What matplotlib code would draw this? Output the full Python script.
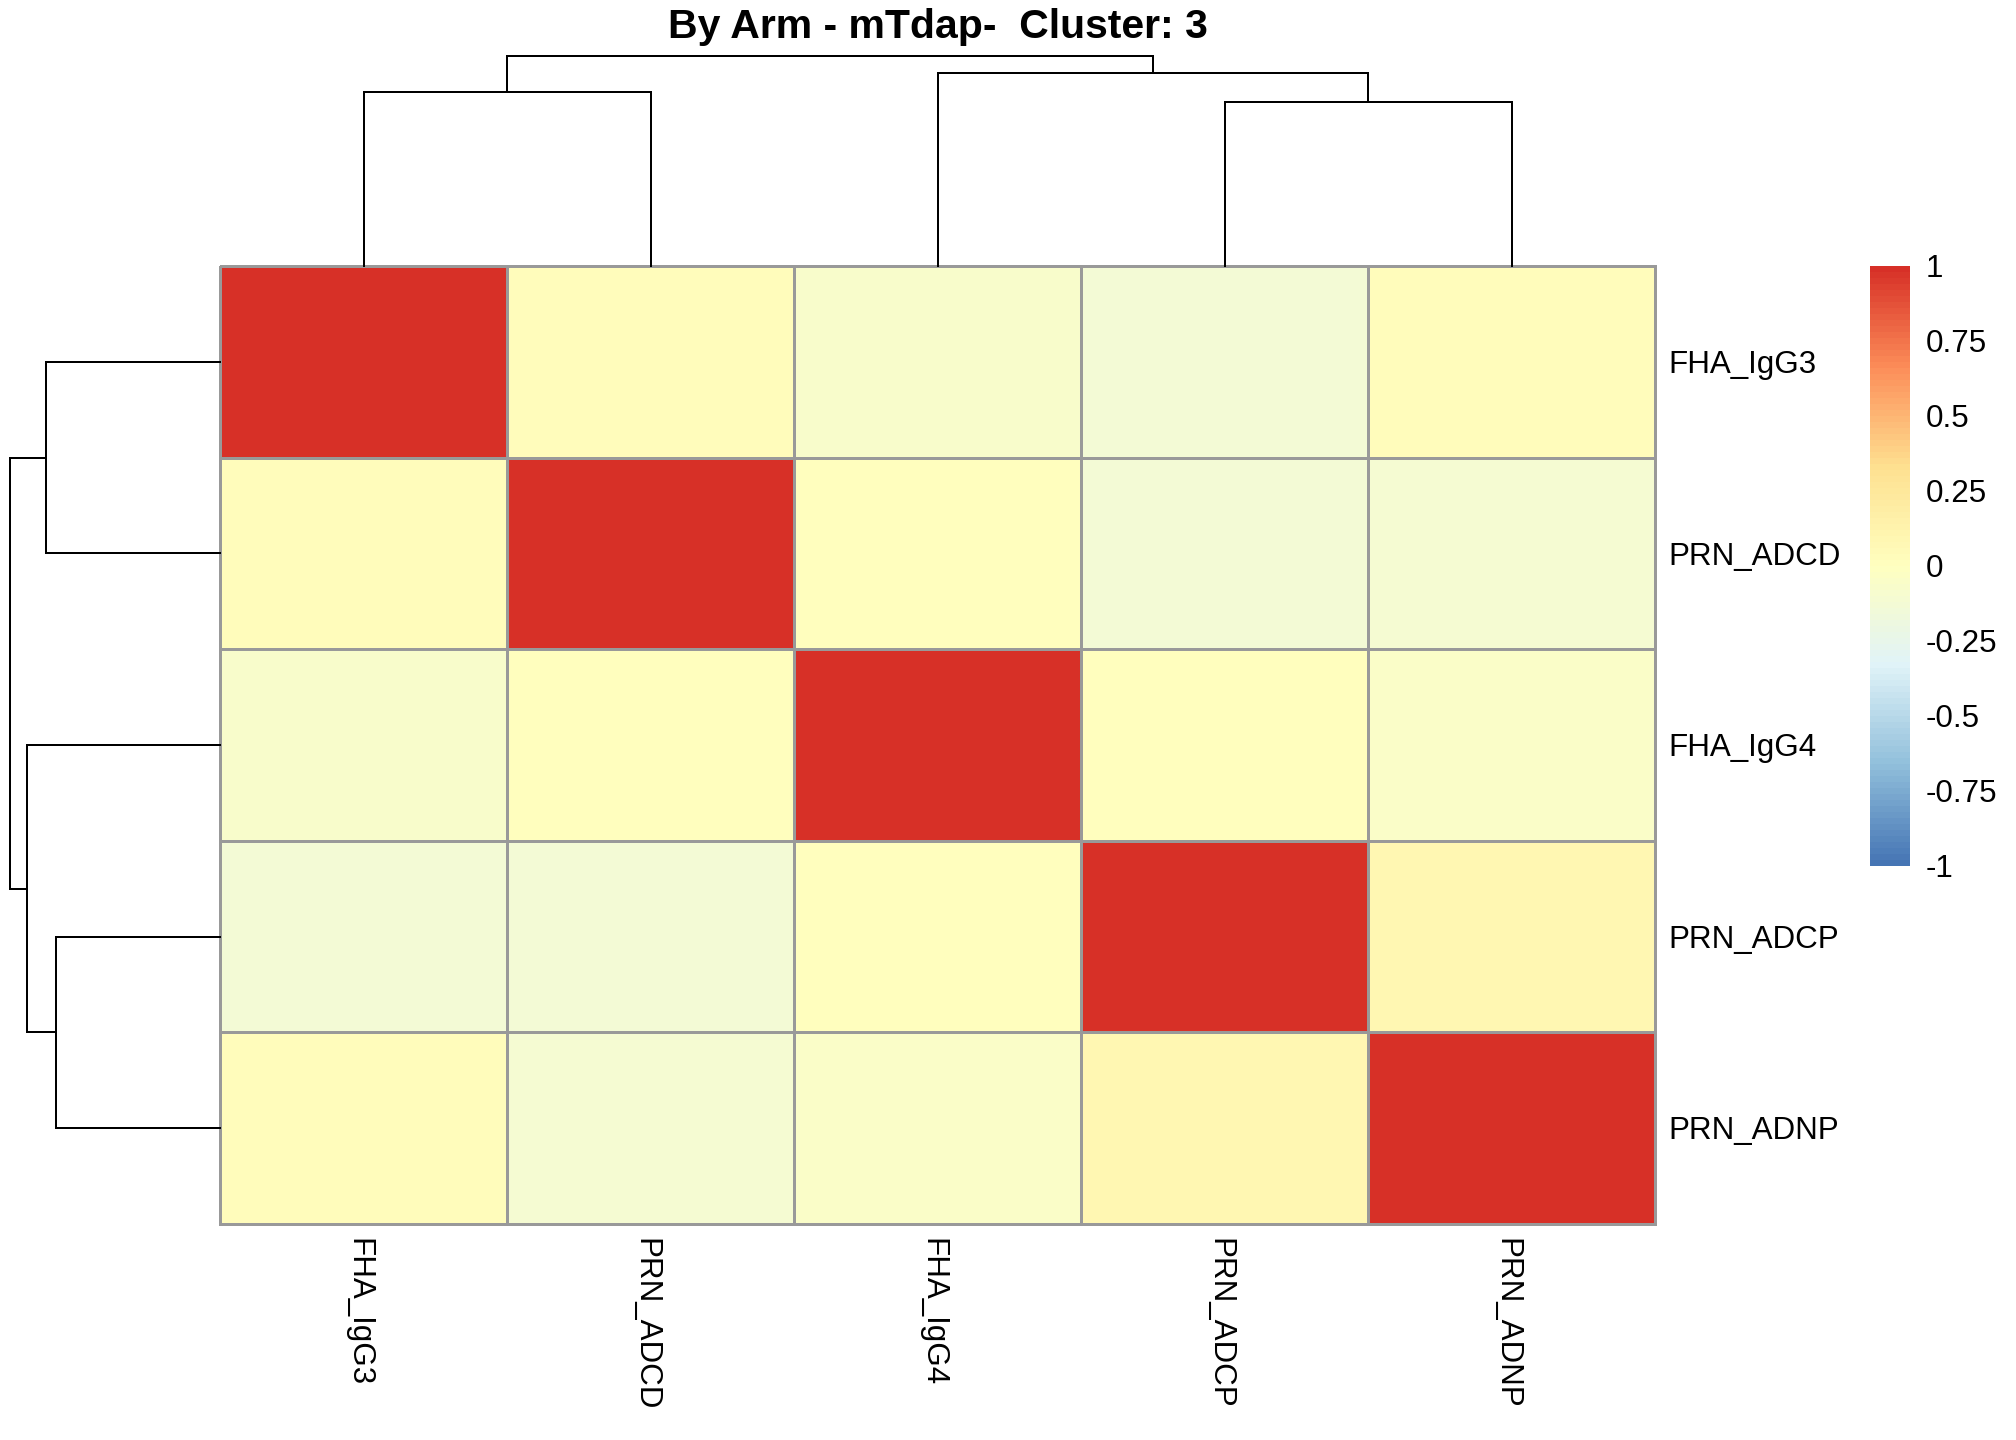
import numpy as np
import matplotlib
matplotlib.use('Agg')
import matplotlib.pyplot as plt
from matplotlib.colors import LinearSegmentedColormap

plt.rcParams['font.family'] = ['Liberation Sans', 'DejaVu Sans']

# ---- data ----
labels = ['FHA_IgG3', 'PRN_ADCD', 'FHA_IgG4', 'PRN_ADCP', 'PRN_ADNP']
row0 = [1.00, 0.02, -0.07, -0.13, 0.02]
row1 = [0.02, 1.00, 0.01, -0.13, -0.12]
row2 = [-0.07, 0.01, 1.00, 0.01, -0.06]
row3 = [-0.13, -0.13, 0.01, 1.00, 0.09]
row4 = [0.02, -0.12, -0.06, 0.09, 1.00]
values = np.array([row0, row1, row2, row3, row4])

# linkage table (left child, right child, height); new nodes numbered from 5
link_left = [0, 3, 2, 5]
link_right = [1, 4, 6, 7]
link_height = [1.112, 1.049, 1.229, 1.34]

title = 'By Arm - mTdap-  Cluster: 3'
cbar_ticks = [-1, -0.75, -0.5, -0.25, 0, 0.25, 0.5, 0.75, 1]
cbar_labels = ['-1', '-0.75', '-0.5', '-0.25', '0', '0.25', '0.5', '0.75', '1']
palette = ["#4575B4", "#91BFDB", "#E0F3F8", "#FFFFBF", "#FEE090", "#FC8D59", "#D73027"]

# ---- layout ----
W, H = 2016, 1440
fig = plt.figure(figsize=(14, 10), dpi=144)


def px_axes(x0, y0, x1, y1):
    return fig.add_axes([x0 / W, 1 - y1 / H, (x1 - x0) / W, (y1 - y0) / H])


cmap = LinearSegmentedColormap.from_list('rdylbu_r', palette, N=100)
FS = 15.7
HALF_CAP = 0.716 * FS / 2

# heatmap
hm = px_axes(220, 266, 1655, 1224)
n = len(labels)
mesh = hm.pcolormesh(values, cmap=cmap, vmin=-1, vmax=1,
                     edgecolors='#999999', linewidth=1.3)
mesh.set_clip_on(False)
hm.set_xlim(0, n)
hm.set_ylim(n, 0)
hm.axis('off')

for i, lab in enumerate(labels):
    hm.annotate(lab, xy=(n, i + 0.5), xycoords='data', xytext=(6.5, -HALF_CAP),
                textcoords='offset points', ha='left', va='baseline',
                fontsize=FS)
    hm.annotate(lab, xy=(i + 0.5, n), xycoords='data', xytext=(-2.5, -7),
                textcoords='offset points', ha='center', va='top',
                rotation=270, fontsize=FS)


def dendro_segments():
    pos = {i: i + 0.5 for i in range(n)}
    hgt = {i: 0.0 for i in range(n)}
    segs = []
    for k, (a, b, h) in enumerate(zip(link_left, link_right, link_height)):
        node = n + k
        xa, xb = pos[a], pos[b]
        segs.append(([xa, xa], [hgt[a], h]))
        segs.append(([xb, xb], [hgt[b], h]))
        segs.append(([xa, xb], [h, h]))
        pos[node] = (xa + xb) / 2
        hgt[node] = h
    return segs


segs = dendro_segments()
hmax = max(link_height)

# top dendrogram
top = px_axes(220, 56, 1655, 266)
for xs, ys in segs:
    top.plot(xs, ys, color='black', lw=1.0, solid_capstyle='projecting', clip_on=False)
top.set_xlim(0, n)
top.set_ylim(0, hmax)
top.axis('off')

# left dendrogram
left = px_axes(10, 266, 220, 1224)
for xs, ys in segs:
    left.plot(ys, xs, color='black', lw=1.0, solid_capstyle='projecting', clip_on=False)
left.set_xlim(hmax, 0)
left.set_ylim(n, 0)
left.axis('off')

# colour legend
cb = px_axes(1870, 266, 1910, 866)
edges = np.linspace(-1, 1, 101)
mids = (edges[:-1] + edges[1:]) / 2
cb.pcolormesh([0, 1], edges, mids.reshape(-1, 1), cmap=cmap, vmin=-1, vmax=1)
cb.set_xlim(0, 1)
cb.set_ylim(-1, 1)
cb.axis('off')
for t, lab in zip(cbar_ticks, cbar_labels):
    cb.annotate(lab, xy=(1, t), xycoords='data', xytext=(8, -HALF_CAP),
                textcoords='offset points', ha='left', va='baseline',
                fontsize=FS)

# title
fig.text(937.5 / W, 1 - 38 / H, title, ha='center', va='baseline',
         fontsize=20.5, fontweight='bold')

fig.savefig('out.png', dpi=144, facecolor='white')
